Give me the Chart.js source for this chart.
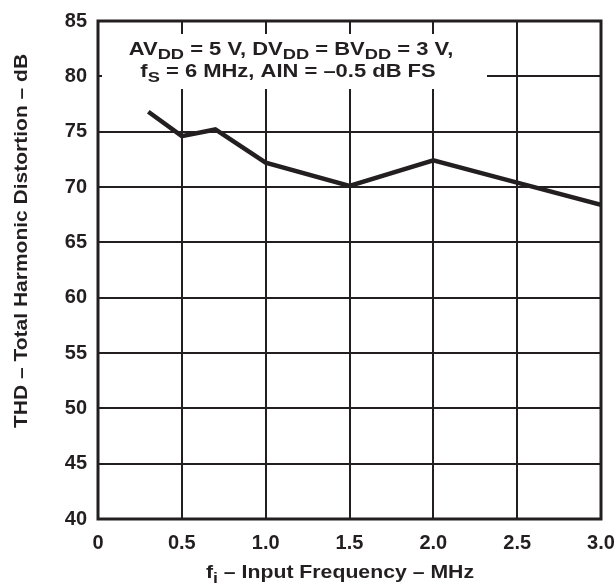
<!DOCTYPE html>
<html>
<head>
<meta charset="utf-8">
<script src="https://cdn.jsdelivr.net/npm/chart.js@4.4.0/dist/chart.umd.min.js"></script>
<style>
    html, body { margin: 0; padding: 0; background: #fff; }
    #wrap { width: 616px; height: 586px; }
</style>
</head>
<body>
<div id="wrap"><canvas id="thdChart" width="616" height="586"></canvas></div>
<script>
// values
var inputFreq = [0.3, 0.5, 0.7, 1.0, 1.5, 2.0, 2.5, 3.0];
var thdValues = [76.8, 74.6, 75.2, 72.2, 70.1, 72.4, 70.4, 68.4];
var yTicks = [40, 45, 50, 55, 60, 65, 70, 75, 80, 85];
var xTicks = [0, 0.5, 1.0, 1.5, 2.0, 2.5, 3.0];

var ink = '#231f20';
var fontFam = '"Liberation Sans", Arial, Helvetica, sans-serif';

// draws a run of text pieces, some as subscripts, centred on cx
function drawRich(ctx, parts, cx, baseline, size, subSize, subDrop, sx) {
    ctx.save();
    ctx.translate(cx, baseline);
    ctx.scale(sx, 1);
    var total = 0;
    parts.forEach(function (p) {
        ctx.font = 'bold ' + (p.sub ? subSize : size) + 'px ' + fontFam;
        total += ctx.measureText(p.t).width;
    });
    var x = -total / 2;
    ctx.fillStyle = ink;
    ctx.textAlign = 'left';
    ctx.textBaseline = 'alphabetic';
    parts.forEach(function (p) {
        ctx.font = 'bold ' + (p.sub ? subSize : size) + 'px ' + fontFam;
        ctx.fillText(p.t, x, p.sub ? subDrop : 0);
        x += ctx.measureText(p.t).width;
    });
    ctx.restore();
}

var decorPlugin = {
    id: 'decor',
    afterDatasetsDraw: function (chart) {
        var ctx = chart.ctx;
        var a = chart.chartArea;

        // white label box over the grid
        ctx.save();
        ctx.fillStyle = '#fff';
        ctx.fillRect(a.left + 4, 34, 385, 55);
        ctx.restore();

        drawRich(ctx, [
            {t: 'AV'}, {t: 'DD', sub: true}, {t: ' = 5 V, DV'}, {t: 'DD', sub: true},
            {t: ' = BV'}, {t: 'DD', sub: true}, {t: ' = 3 V,'}
        ], 291, 55, 18, 15, 4, 1.22);
        drawRich(ctx, [
            {t: 'f'}, {t: 'S', sub: true}, {t: ' = 6 MHz, AIN = \u20130.5 dB FS'}
        ], 288, 77, 18, 15, 5, 1.22);

        // frame
        ctx.save();
        ctx.strokeStyle = ink;
        ctx.lineWidth = 3;
        ctx.strokeRect(a.left, a.top, a.right - a.left, a.bottom - a.top);
        ctx.restore();

        // axis titles
        drawRich(ctx, [
            {t: 'f'}, {t: 'i', sub: true}, {t: ' \u2013 Input Frequency \u2013 MHz'}
        ], 340, 578, 18, 15, 5, 1.18);

        ctx.save();
        ctx.translate(27, 241);
        ctx.rotate(-Math.PI / 2);
        ctx.scale(1, 0.87);
        ctx.font = 'bold 21px ' + fontFam;
        ctx.fillStyle = ink;
        ctx.textAlign = 'center';
        ctx.textBaseline = 'alphabetic';
        ctx.fillText('THD \u2013 Total Harmonic Distortion \u2013 dB', 0, 0);
        ctx.restore();
    }
};

var ctx = document.getElementById('thdChart').getContext('2d');
new Chart(ctx, {
    type: 'line',
    data: {
        datasets: [{
            data: inputFreq.map(function (f, i) { return {x: f, y: thdValues[i]}; }),
            borderColor: ink,
            borderWidth: 4.5,
            pointRadius: 0,
            tension: 0,
            fill: false
        }]
    },
    options: {
        responsive: false,
        animation: false,
        layout: {
            padding: {top: 21, right: 15, left: 0, bottom: 0}
        },
        plugins: {
            legend: {display: false},
            tooltip: {enabled: false}
        },
        scales: {
            x: {
                type: 'linear',
                min: 0,
                max: 3,
                afterFit: function (s) {
                    s.height = 67;
                    s.paddingLeft = 0;
                    s.paddingRight = 0;
                },
                afterBuildTicks: function (s) {
                    s.ticks = xTicks.map(function (v) { return {value: v}; });
                },
                grid: {color: ink, lineWidth: 2, drawTicks: false},
                border: {display: false},
                ticks: {
                    color: ink,
                    padding: 12,
                    maxRotation: 0,
                    font: {family: fontFam, size: 20, weight: 'bold'},
                    callback: function (v) { return v === 0 ? '0' : v.toFixed(1); }
                }
            },
            y: {
                min: 40,
                max: 85,
                afterFit: function (s) {
                    s.width = 98;
                    s.paddingTop = 0;
                    s.paddingBottom = 0;
                },
                afterBuildTicks: function (s) {
                    s.ticks = yTicks.map(function (v) { return {value: v}; });
                },
                grid: {color: ink, lineWidth: 2, drawTicks: false},
                border: {display: false},
                ticks: {
                    color: ink,
                    padding: 11,
                    font: {family: fontFam, size: 20, weight: 'bold'}
                }
            }
        }
    },
    plugins: [decorPlugin]
});
</script>
</body>
</html>
